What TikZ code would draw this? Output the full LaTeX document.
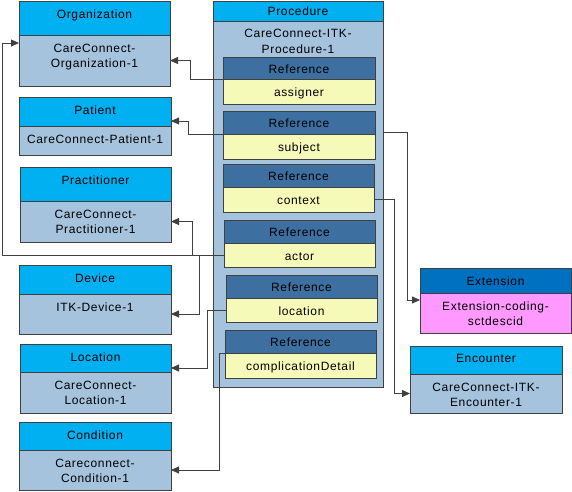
\documentclass[tikz,border=0pt]{standalone}
\usepackage{fontspec}
\setmainfont{Liberation Sans}[LetterSpace=5.5]
\usetikzlibrary{arrows.meta,calc}
\definecolor{hdrcyan}{RGB}{0,176,240}
\definecolor{bodyblue}{RGB}{166,195,221}
\definecolor{refhdr}{RGB}{61,111,161}
\definecolor{refbody}{RGB}{245,250,185}
\definecolor{exthdr}{RGB}{0,112,192}
\definecolor{extbody}{RGB}{255,153,255}
\definecolor{edge}{RGB}{64,64,64}
\tikzset{
  boxrect/.style={draw=edge, line width=0.8pt, inner sep=0pt, outer sep=0pt, anchor=north west},
  txt/.style={inner sep=0pt, align=center, font=\fontsize{12}{15.5}\selectfont, text=black},
  conn/.style={draw=edge, line width=0.8pt, -{Triangle[length=8pt,width=7pt]}},
}
% #1 name #2 x #3 ytop #4 ysplit #5 ybottom #6 width #7 header #8 body #9 colour prefix
\newcommand\cbox[9]{%
  \node[boxrect, fill=#9H, minimum width=#6pt, minimum height={(#4-#3)*1pt}] (#1h) at (#2,#3) {};
  \node[boxrect, fill=#9B, minimum width=#6pt, minimum height={(#5-#4)*1pt}] (#1) at (#2,#4) {};
  \node[txt, anchor=north] at ([yshift=-8.5pt]#1h.north) {#7};
  \node[txt, anchor=north] at ([yshift=-8.5pt]#1.north) {#8};
}
% reference box: #1 name #2 x #3 ytop #4 ysplit #5 ybottom #6 width #7 body text
\newcommand\rbox[7]{%
  \node[boxrect, fill=refhdr, minimum width=#6pt, minimum height={(#4-#3)*1pt}] (#1h) at (#2,#3) {};
  \node[boxrect, fill=refbody, minimum width=#6pt, minimum height={(#5-#4)*1pt}] (#1) at (#2,#4) {};
  \node[txt] at ([yshift=-1pt]#1h.center) {Reference};
  \node[txt] at ([yshift=-1.5pt]#1.center) {#7};
}
\colorlet{stdH}{hdrcyan}
\colorlet{stdB}{bodyblue}
\colorlet{extH}{exthdr}
\colorlet{extB}{extbody}
\begin{document}
\begin{tikzpicture}[x=1pt,y=-1pt]
\useasboundingbox (0,0) rectangle (572,491);
% left classes
\cbox{org}{19}{1}{35}{86}{151}{Organization}{CareConnect-\\Organization-1}{std}
\cbox{pat}{19}{97}{126}{155}{152}{Patient}{CareConnect-Patient-1}{std}
\cbox{prac}{20}{167}{201}{242}{151}{Practitioner}{CareConnect-\\Practitioner-1}{std}
\cbox{dev}{19}{265}{294}{334}{152}{Device}{ITK-Device-1}{std}
\cbox{loc}{20}{344}{372}{413}{151}{Location}{CareConnect-\\Location-1}{std}
\cbox{cond}{19}{422}{450}{490}{152}{Condition}{Careconnect-\\Condition-1}{std}
% right classes
\cbox{ext}{420}{268}{293}{333}{151}{Extension}{Extension-coding-\\sctdescid}{ext}
\cbox{enc}{410}{346}{374}{413}{152}{Encounter}{CareConnect-ITK-\\Encounter-1}{std}
% procedure
\node[boxrect, fill=hdrcyan, minimum width=170pt, minimum height=20pt] (proch) at (213,1) {};
\node[boxrect, fill=bodyblue, minimum width=170pt, minimum height=366pt] (proc) at (213,21) {};
\node[txt, anchor=north] at ([yshift=-6pt]proch.north) {Procedure};
\node[txt, anchor=north] at ([yshift=-8pt]proc.north) {CareConnect-ITK-\\Procedure-1};
\rbox{asg}{223}{57}{79}{104}{152}{assigner}
\rbox{sub}{223}{111}{134}{159}{152}{subject}
\rbox{ctx}{223}{164}{187}{212}{151}{context}
\rbox{act}{224}{220}{243}{267}{151}{actor}
\rbox{lref}{226}{275}{298}{322}{151}{location}
\rbox{cd}{225}{330}{353}{378}{151}{complicationDetail}
% connectors
\draw[conn] (asgh.south west) -| ([xshift=20pt]org.east) -- (org.east);
\draw[conn] (subh.south west) -| ([xshift=17pt,yshift=-9.5pt]path.east) -- ([yshift=-9.5pt]path.east);
\coordinate (orgIn) at ([yshift=-8pt]org.north west);
\draw[conn] (act.west) -| ([xshift=-17pt]orgIn) -- (orgIn);
\draw[conn] (act.west) -| ([xshift=21pt]prac.east) -- (prac.east);
\draw[conn] (act.west) -| ([xshift=28pt]dev.east) -- (dev.east);
\draw[conn] (lref.west) -| ([xshift=36pt,yshift=-10pt]loch.east) -- ([yshift=-10pt]loch.east);
\draw[conn] (cdh.south west) -| ([xshift=48pt]cond.east) -- (cond.east);
\draw[conn] ([yshift=-111pt]proc.north east) -| ([xshift=-13pt,yshift=-7pt]ext.north west) -- ([yshift=-7pt]ext.north west);
\draw[conn] (ctx.east) -| ([xshift=-16pt]enc.west) -- (enc.west);
\end{tikzpicture}
\end{document}
